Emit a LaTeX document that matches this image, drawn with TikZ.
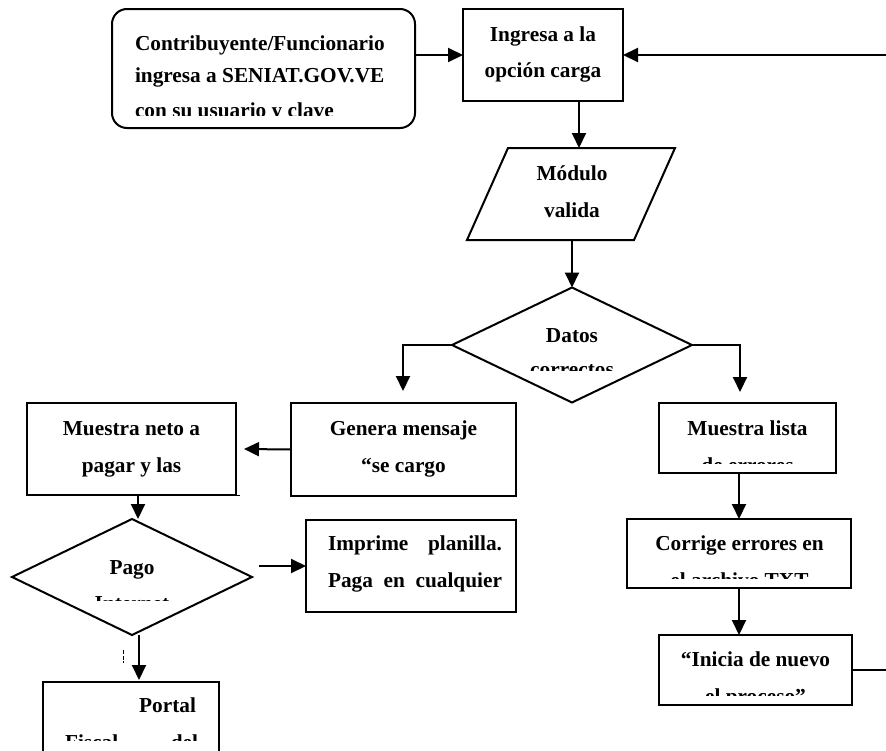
\documentclass[tikz,border=0pt]{standalone}
\usepackage{fontspec}
\setmainfont{Liberation Serif}
\usetikzlibrary{arrows.meta,shapes.geometric,calc}
\begin{document}
\begin{tikzpicture}[x=1pt,y=-1pt,
  every node/.style={outer sep=0pt},
  box/.style={draw,line width=2pt,rectangle,inner sep=0pt},
  rbox/.style={box,rounded corners=15pt},
  dia/.style={draw,line width=2pt,diamond,inner sep=0pt},
  frame/.style={rectangle,inner sep=0pt},
  txt/.style={font=\bfseries\fontsize{21.3}{25}\selectfont,inner sep=0pt,anchor=base},
  arr/.style={line width=2pt,-{Triangle[length=15pt,width=14pt]}},
  ln/.style={line width=2pt}]
\clip (0,0) rectangle (886,750);
\fill[white] (0,0) rectangle (886,750);

% shapes
\node[rbox,minimum width=303pt,minimum height=119pt] (b1) at (263.5,68.5) {};
\node[box,minimum width=160pt,minimum height=92pt] (b2) at (543,55) {};
\node[frame,minimum width=208pt,minimum height=92pt] (pm) at (571,194) {};
\draw[ln,line join=miter] (pm.south west) -- ([xshift=41pt]pm.north west) -- (pm.north east) -- ([xshift=-41pt]pm.south east) -- cycle;
\node[dia,minimum width=240pt,minimum height=115pt] (datos) at (572,345) {};
\node[box,minimum width=225pt,minimum height=93pt] (gen) at (403.5,449.5) {};
\node[box,minimum width=209pt,minimum height=92pt] (neto) at (131.5,449) {};
\node[box,minimum width=177pt,minimum height=70pt] (lista) at (747.5,438) {};
\node[box,minimum width=224pt,minimum height=69pt] (corr) at (739,553.5) {};
\node[box,minimum width=193pt,minimum height=70pt] (inic) at (755.5,670) {};
\node[dia,minimum width=240pt,minimum height=116pt] (pago) at (132,577) {};
\node[box,minimum width=210pt,minimum height=92pt] (impr) at (411,566) {};
\node[box,minimum width=176pt,minimum height=100pt] (portal) at (131,732) {};

% texts
\begin{scope}
\clip (112,0) rectangle (415,115);
\node[txt,anchor=base west] (t1a) at (135,50) {Contribuyente/Funcionario};
\node[txt,anchor=base west] (t1b) at (135,82) {ingresa a SENIAT.GOV.VE};
\node[txt,anchor=base west] (t1c) at (135,117.5) {con su usuario y clave};
\end{scope}
\node[txt] (t2a) at (543,41) {Ingresa a la};
\node[txt] (t2b) at (543,77) {opción carga};
\node[txt] (t3a) at (572,180) {Módulo};
\node[txt] (t3b) at (572,217) {valida};
\begin{scope}
\clip (452,290) rectangle (692,370);
\node[txt] (t4a) at (572,342) {Datos};
\node[txt] (t4b) at (572,376.5) {correctos};
\end{scope}
\node[txt] (t5a) at (403.5,435) {Genera mensaje};
\node[txt] (t5b) at (403.5,472) {“se cargo};
\node[txt] (t6a) at (131.5,435) {Muestra neto a};
\node[txt] (t6b) at (131.5,472) {pagar y las};
\begin{scope}
\clip (659,403) rectangle (836,463);
\node[txt] (t7a) at (747.5,435) {Muestra lista};
\node[txt] (t7b) at (747.5,472) {de errores};
\end{scope}
\begin{scope}
\clip (627,519) rectangle (851,578);
\node[txt] (t8a) at (739.5,550) {Corrige errores en};
\node[txt] (t8b) at (739.5,587) {el archivo TXT};
\end{scope}
\begin{scope}
\clip (659,635) rectangle (852,695);
\node[txt] (t9a) at (755.5,666) {“Inicia de nuevo};
\node[txt] (t9b) at (755.5,703) {el proceso”};
\end{scope}
\begin{scope}
\clip (12,519) rectangle (252,600);
\node[txt] (t10a) at (132,574) {Pago};
\node[txt] (t10b) at (132,610) {Internet};
\end{scope}
\node[txt,anchor=base west] (t11a) at (328,550) {\makebox[174pt][s]{Imprime planilla.}};
\node[txt,anchor=base west] (t11b) at (328,587) {\makebox[174pt][s]{Paga en cualquier}};
\begin{scope}
\clip (43,682) rectangle (219,740);
\node[txt,anchor=base east] (t12a) at (196,712) {Portal};
\node[txt,anchor=base west] (t12b) at (65,749) {\makebox[133pt][s]{Fiscal del}};
\end{scope}

% connectors
\coordinate (rin) at (886,55);
\coordinate (rout) at (886,670);
\draw[arr] (b1.east |- b2.west) -- (b2.west);
\draw[arr] (rin) -- (b2.east);
\draw[arr] ([xshift=36pt]b2.south) -- ([xshift=36pt]b2.south |- pm.north);
\draw[arr] (datos.north |- pm.south) -- (datos.north);
\draw[arr] (datos.west) -| ([xshift=-0.5pt,yshift=12pt]gen.north);
\draw[arr] (datos.east) -| ([xshift=-7.5pt,yshift=11pt]lista.north);
\draw[arr] (gen.west) -- ([xshift=8pt]neto.east);
\draw[arr] ([xshift=6.5pt]neto.south) -- ([xshift=6.5pt]neto.south |- pago.north);
\draw[arr] ([xshift=7pt]pago.east |- impr.west) -- (impr.west);
\draw[arr] ([xshift=7pt]pago.south) -- ([xshift=7pt,yshift=2pt]pago.south |- portal.north);
\draw[arr] (corr.north |- lista.south) -- (corr.north);
\draw[arr] (corr.south) -- (corr.south |- inic.north);
\draw[ln] (inic.east) -- (rout);

% small strokes as printed
\draw[line width=0.8pt,dash pattern=on 4pt off 1.5pt] (123,650) -- (123,663);
\draw[line width=1pt] (236,495) -- (240,495);
\draw[line width=2.6pt] (175,495) -- (208,495);
\end{tikzpicture}
\end{document}
